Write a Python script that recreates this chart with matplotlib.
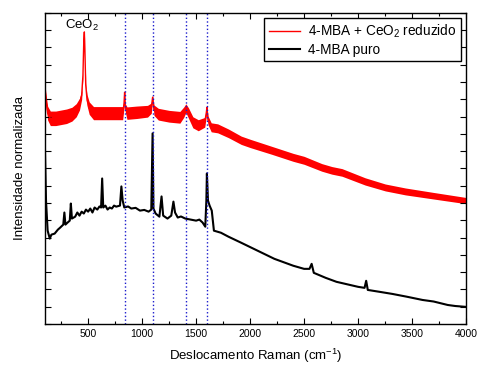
import numpy as np
import matplotlib
matplotlib.use("Agg")
from matplotlib import pyplot as plt

plt.rcParams['font.family'] = ['Liberation Sans', 'DejaVu Sans']
plt.rcParams['mathtext.fontset'] = 'custom'
plt.rcParams['mathtext.rm'] = 'Liberation Sans'
plt.rcParams['mathtext.it'] = 'Liberation Sans:italic'

# 4-MBA + CeO2 reduzido (red), center of noisy band + half width
red_x = [100, 110, 125, 150, 200, 250, 300, 350, 390, 420, 440, 452, 460, 465, 470, 478, 490,
         510, 550, 650, 750, 820, 832, 838, 845, 860, 950, 1050, 1085, 1097, 1110, 1150, 1250,
         1350, 1385, 1405, 1430, 1470, 1520, 1580, 1595, 1600, 1610, 1640, 1700, 1800, 1918,
         2000, 2200, 2400, 2500, 2664, 2757, 2851, 3065, 3252, 3438, 3690, 4000]
red_y = [13.65, 12.95, 12.20, 11.90, 11.90, 11.96, 12.02, 12.14, 12.37, 12.72, 13.24, 14.40, 16.43,
         16.90, 15.85, 13.82, 12.95, 12.49, 12.20, 12.20, 12.20, 12.20, 12.72, 13.41, 12.49, 12.20,
         12.25, 12.31, 12.49, 13.12, 12.37, 12.14, 12.02, 11.96, 12.25, 12.49, 12.20, 11.67, 11.50,
         11.67, 12.25, 12.54, 11.79, 11.38, 11.32, 11.03, 10.63, 10.45, 10.05, 9.64, 9.47, 9.06,
         8.89, 8.77, 8.25, 7.90, 7.67, 7.43, 7.14]
red_hw = [0.25, 0.35, 0.40, 0.42, 0.42, 0.42, 0.42, 0.40, 0.38, 0.34, 0.25, 0.15, 0.08,
          0.08, 0.08, 0.15, 0.32, 0.36, 0.38, 0.38, 0.38, 0.38, 0.25, 0.15, 0.25, 0.36,
          0.36, 0.34, 0.30, 0.15, 0.30, 0.34, 0.34, 0.34, 0.30, 0.25, 0.30, 0.32, 0.32,
          0.28, 0.20, 0.15, 0.25, 0.26, 0.26, 0.25, 0.24, 0.24, 0.23, 0.23, 0.23, 0.22,
          0.22, 0.22, 0.21, 0.20, 0.20, 0.19, 0.18]

# 4-MBA puro (black)
blk_x = [100, 110, 125, 145, 160, 190, 220, 240, 270, 280, 290, 310, 330, 340, 350, 380, 400,
         420, 440, 460, 480, 500, 520, 540, 560, 585, 605, 620, 630, 640, 660, 680, 700, 720,
         740, 760, 795, 808, 820, 835, 870, 900, 940, 980, 1020, 1060, 1085, 1097, 1105, 1125,
         1160, 1180, 1195, 1235, 1270, 1290, 1305, 1330, 1360, 1400, 1450, 1500, 1530, 1560,
         1585, 1595, 1600, 1610, 1625, 1645, 1665, 1730, 1800, 1918, 2050, 2225, 2400, 2500,
         2550, 2570, 2590, 2700, 2800, 3000, 3060, 3075, 3090, 3200, 3317, 3450, 3597, 3700,
         3830, 3900, 4000]
blk_y = [10.22, 7.14, 5.40, 4.94, 5.17, 5.23, 5.46, 5.57, 5.75, 6.45, 5.75, 5.87, 5.98, 6.97,
         6.10, 6.21, 6.45, 6.27, 6.50, 6.39, 6.62, 6.50, 6.68, 6.45, 6.74, 6.62, 6.80, 6.74,
         8.42, 6.74, 6.85, 6.62, 6.74, 6.68, 6.85, 6.79, 6.85, 7.96, 7.14, 6.74, 6.80, 6.68,
         6.72, 6.56, 6.60, 6.50, 6.62, 11.03, 6.68, 6.39, 6.21, 7.38, 6.27, 6.10, 6.27, 7.08,
         6.45, 6.16, 6.22, 6.10, 6.04, 5.98, 6.04, 5.87, 5.63, 7.14, 8.71, 7.14, 6.85, 6.56,
         5.40, 5.28, 5.05, 4.70, 4.30, 3.77, 3.37, 3.19, 3.19, 3.48, 2.96, 2.67, 2.44, 2.15,
         2.09, 2.50, 1.97, 1.86, 1.74, 1.58, 1.39, 1.30, 1.10, 1.04, 0.99]

# bandas marcadas
band_pos = [840, 1097, 1405, 1600]

red_x = np.array(red_x)
red_y = np.array(red_y)
red_hw = np.array(red_hw)

fig = plt.figure(figsize=(4.78, 3.69), dpi=100)
ax = fig.add_axes([0.094, 0.122, 0.881, 0.843])

ax.fill_between(red_x, red_y - red_hw, red_y + red_hw, color='red', lw=0)
ax.plot(red_x, red_y, color='red', lw=1.0, label='4-MBA + CeO$_2$ reduzido')
ax.plot(blk_x, blk_y, color='black', lw=1.5, label='4-MBA puro')

for b in band_pos:
    ax.axvline(b, color='#1a1acc', ls=':', lw=1.0)

ax.text(444, 17.3, 'CeO$_2$', ha='center', va='center', fontsize=9.5)

ax.set_xlim(100, 4000)
ax.set_ylim(0, 18)
ax.set_xticks(np.arange(500, 4001, 500))
ax.set_xticks(np.arange(250, 4001, 250), minor=True)
ax.set_yticks(np.arange(0, 18.1, 1))
ax.set_yticklabels([])
ax.tick_params(which='both', direction='in', top=True, right=True, labelsize=7.5, width=0.8)
ax.tick_params(which='major', length=4)
ax.tick_params(which='minor', length=2)
for s in ax.spines.values():
    s.set_linewidth(1.0)

ax.set_xlabel('Deslocamento Raman (cm$^{-1}$)', fontsize=9.5, labelpad=6)
ax.set_ylabel('Intensidade normalizada', fontsize=9.5, labelpad=10)

leg = ax.legend(loc='upper right', fontsize=9.8, frameon=True, fancybox=False,
                edgecolor='black', framealpha=1, handlelength=2.3, handletextpad=0.6,
                borderaxespad=0.4, labelspacing=0.25, borderpad=0.3)
leg.get_frame().set_linewidth(1.0)

fig.savefig('out.png', dpi=100)
